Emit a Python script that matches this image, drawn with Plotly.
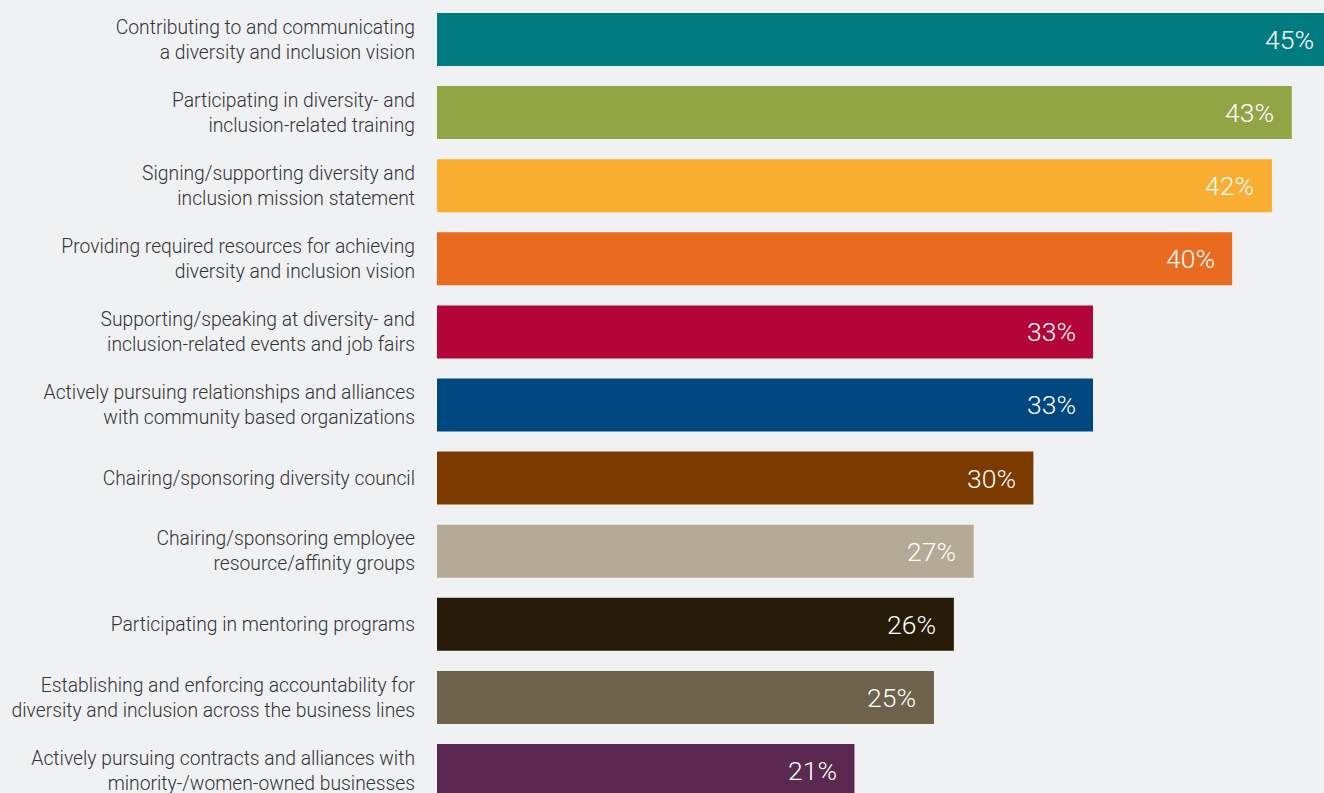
import plotly.graph_objects as go

categories = [
    "Contributing to and communicating<br>a diversity and inclusion vision",
    "Participating in diversity- and<br>inclusion-related training",
    "Signing/supporting diversity and<br>inclusion mission statement",
    "Providing required resources for achieving<br>diversity and inclusion vision",
    "Supporting/speaking at diversity- and<br>inclusion-related events and job fairs",
    "Actively pursuing relationships and alliances<br>with community based organizations",
    "Chairing/sponsoring diversity council",
    "Chairing/sponsoring employee<br>resource/affinity groups",
    "Participating in mentoring programs",
    "Establishing and enforcing accountability for<br>diversity and inclusion across the business lines",
    "Actively pursuing contracts and alliances with<br>minority-/women-owned businesses",
]
values = [45, 43, 42, 40, 33, 33, 30, 27, 26, 25, 21]
colors = ["#007C80", "#93A445", "#F9AE32", "#E96B1F", "#B30537", "#00467F",
          "#7A3A00", "#B5AA95", "#261B08", "#6E624C", "#5A2850"]

FONT = "Roboto, sans-serif"

fig = go.Figure()
fig.add_trace(go.Bar(
    x=values, y=categories, orientation="h",
    marker=dict(color=colors, line=dict(width=0)),
    width=0.725, hoverinfo="skip",
))

for cat, v in zip(categories, values):
    fig.add_annotation(
        x=v - 0.78, y=cat, text=f"{v}%", showarrow=False,
        xanchor="right", yanchor="middle",
        font=dict(family=FONT, size=26.5, color="white", weight=300),
    )

fig.update_layout(
    width=1324, height=793,
    margin=dict(l=437, r=0, t=0, b=0),
    paper_bgcolor="#F0F1F3", plot_bgcolor="#F0F1F3",
    showlegend=False,
    font=dict(family=FONT, size=19.3, color="#333333"),
    bargap=0.275,
)
fig.update_xaxes(range=[0, 44.62], visible=False, showgrid=False, zeroline=False)
fig.update_yaxes(
    categoryorder="array", categoryarray=categories, automargin=False,
    range=[10.308, -0.540], showgrid=False, zeroline=False, showline=False,
    ticks="", ticklabelstandoff=21,
    tickfont=dict(family=FONT, size=19.3, color="#333333", weight=300),
)

fig.write_html("out.html")
